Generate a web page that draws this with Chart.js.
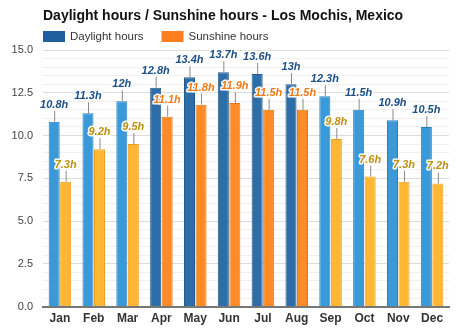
<!DOCTYPE html>
<html lang="en">
<head>
    <meta charset="UTF-8">
    <title>Daylight hours / Sunshine hours - Los Mochis, Mexico</title>
    <script src="https://cdn.jsdelivr.net/npm/chart.js"></script>
    <style>
        html, body { margin: 0; padding: 0; background: #fff; }
        #wrap { width: 474px; height: 331px; }
    </style>
</head>
<body>
    <div id="wrap"><canvas id="myChart" width="474" height="331"></canvas></div>
    <script>
        // chart data
        const months = ['Jan', 'Feb', 'Mar', 'Apr', 'May', 'Jun', 'Jul', 'Aug', 'Sep', 'Oct', 'Nov', 'Dec'];
        const daylightHours = [10.8, 11.3, 12, 12.8, 13.4, 13.7, 13.6, 13, 12.3, 11.5, 10.9, 10.5];
        const sunshineHours = [7.3, 9.2, 9.5, 11.1, 11.8, 11.9, 11.5, 11.5, 9.8, 7.6, 7.3, 7.2];
        const peakMonths = ['Apr', 'May', 'Jun', 'Jul', 'Aug'];
        const yTicks = [0, 2.5, 5, 7.5, 10, 12.5, 15];
        const seriesNames = ['Daylight hours', 'Sunshine hours'];
        const chartTitle = 'Daylight hours / Sunshine hours - Los Mochis, Mexico';

        const isPeak = i => peakMonths.includes(months[i]);
        const FONT = '"Liberation Sans", Arial, Helvetica, sans-serif';

        // colours per bar (darker shades for the peak months)
        const dayFill = months.map((m, i) => isPeak(i) ? '#2e6ea8' : '#3a9ad9');
        const dayBorder = months.map((m, i) => isPeak(i) ? '#245b8e' : '#2a7fbd');
        const sunFill = months.map((m, i) => isPeak(i) ? '#ff8b26' : '#ffb733');
        const sunBorder = months.map((m, i) => isPeak(i) ? '#e8771a' : '#eb9f22');

        // value labels with a small whisker above each bar
        const valueLabels = {
            id: 'valueLabels',
            afterDatasetsDraw(chart) {
                const ctx = chart.ctx;
                ctx.save();
                ctx.font = 'italic bold 11px ' + FONT;
                ctx.textAlign = 'center';
                ctx.textBaseline = 'middle';
                ctx.lineJoin = 'round';
                chart.data.datasets.forEach((ds, d) => {
                    const meta = chart.getDatasetMeta(d);
                    meta.data.forEach((bar, i) => {
                        const v = ds.data[i];
                        const text = (Number.isInteger(v) ? v : v.toFixed(1)) + 'h';
                        // whisker
                        ctx.strokeStyle = '#8a8a8a';
                        ctx.lineWidth = 1;
                        ctx.beginPath();
                        ctx.moveTo(bar.x + 0.5, bar.y);
                        ctx.lineTo(bar.x + 0.5, bar.y - 11);
                        ctx.stroke();
                        // text
                        let color;
                        if (d === 0) color = '#1a4f88';
                        else color = isPeak(i) ? '#f27a14' : '#c0900f';
                        ctx.strokeStyle = 'rgba(255,255,255,0.95)';
                        ctx.lineWidth = 3;
                        ctx.strokeText(text, bar.x, bar.y - 17);
                        ctx.fillStyle = color;
                        ctx.fillText(text, bar.x, bar.y - 17);
                    });
                });
                ctx.restore();
            }
        };

        // title + legend aligned with the plot area
        const header = {
            id: 'header',
            afterDraw(chart) {
                const ctx = chart.ctx;
                const left = chart.chartArea.left;
                ctx.save();
                ctx.textBaseline = 'middle';
                ctx.textAlign = 'left';
                ctx.fillStyle = '#111';
                ctx.font = 'bold 14px ' + FONT;
                ctx.fillText(chartTitle, left, 16);

                ctx.font = '11.5px ' + FONT;
                const swatches = ['#1f5fa0', '#ff7f1e'];
                let x = left;
                seriesNames.forEach((name, k) => {
                    ctx.fillStyle = swatches[k];
                    ctx.fillRect(x, 31, 22, 11);
                    ctx.fillStyle = '#333';
                    ctx.fillText(name, x + 27, 36.5);
                    x += 27 + ctx.measureText(name).width + 18;
                });
                ctx.restore();
            }
        };

        const ctx = document.getElementById('myChart').getContext('2d');
        new Chart(ctx, {
            type: 'bar',
            data: {
                labels: months,
                datasets: [{
                    label: seriesNames[0],
                    data: daylightHours,
                    backgroundColor: dayFill,
                    borderColor: dayBorder,
                    borderWidth: 1
                }, {
                    label: seriesNames[1],
                    data: sunshineHours,
                    backgroundColor: sunFill,
                    borderColor: sunBorder,
                    borderWidth: 1
                }]
            },
            options: {
                responsive: false,
                animation: false,
                devicePixelRatio: 1,
                layout: { padding: { top: 50, right: 25, bottom: 0, left: 0 } },
                datasets: { bar: { categoryPercentage: 0.68, barPercentage: 0.96 } },
                plugins: {
                    legend: { display: false },
                    title: { display: false },
                    tooltip: { enabled: false }
                },
                scales: {
                    x: {
                        grid: { display: false, drawTicks: false },
                        border: { display: true, color: '#777', width: 2 },
                        ticks: {
                            color: '#333',
                            padding: 5,
                            font: { family: FONT, size: 12, weight: 'bold' }
                        }
                    },
                    y: {
                        min: 0,
                        max: 15,
                        afterFit(scale) { scale.width = 43; },
                        border: { display: false },
                        grid: {
                            drawTicks: false,
                            color: c => yTicks.includes(c.tick.value) ? '#dcdcdc' : '#f0f0f0'
                        },
                        ticks: {
                            stepSize: 0.5,
                            autoSkip: false,
                            padding: 10,
                            color: '#444',
                            font: { family: FONT, size: 11 },
                            callback: v => yTicks.includes(v) ? v.toFixed(1) : ''
                        }
                    }
                }
            },
            plugins: [valueLabels, header]
        });
    </script>
</body>
</html>
